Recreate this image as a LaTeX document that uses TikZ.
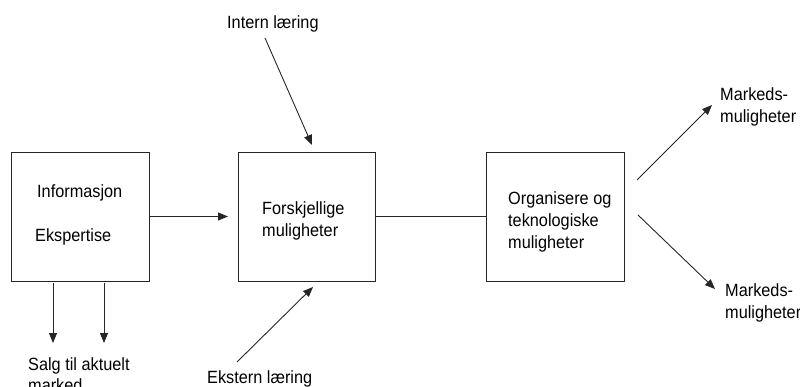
\documentclass[tikz,border=0pt]{standalone}
\usepackage{fontspec}
\setmainfont{Liberation Sans}[FakeStretch=0.92]
\usetikzlibrary{arrows.meta}
\begin{document}
\begin{tikzpicture}[x=1pt,y=-1pt,
  box/.style={draw=black!85,line width=0.9pt,minimum width=137.5pt,minimum height=129pt,inner sep=0pt},
  lbl/.style={inner sep=0pt,anchor=base west,align=left,
    font=\fontsize{17.7pt}{21.7pt}\selectfont},
  conn/.style={draw=black!85,line width=0.9pt},
  arr/.style={conn,-{Triangle[length=10pt,width=8pt]}}]
\useasboundingbox (0,0) rectangle (800,387);

% the three stages
\node[box] (info)  at (80.5,216.5)  {};
\node[box] (mulig) at (307,216.5)   {};
\node[box] (org)   at (555.5,216.5) {};

% texts inside the boxes (multi-line labels sit on their last baseline)
\node[lbl] (tinfo) at (37,197.3)  {Informasjon};
\node[lbl] (teksp) at (35,241.7)  {Ekspertise};
\node[lbl] (tmul)  at (262,236.7) {Forskjellige\\muligheter};
\node[lbl] (torg)  at (508,248.4) {Organisere og\\teknologiske\\muligheter};

% outer labels
\node[lbl] (intern)  at (227,28.3)  {Intern læring};
\node[lbl] (ekstern) at (207,383.3) {Ekstern læring};
\node[lbl] (salg)    at (28,391.7)  {Salg til aktuelt\\marked};
\node[lbl] (mark1)   at (720,122.4) {Markeds-\\muligheter};
\node[lbl] (mark2)   at (725,318.2) {Markeds-\\muligheter};

% free ends of the connectors
\coordinate (infoOut) at (228,216.5);
\coordinate (d1a) at (53,283);  \coordinate (d1b) at (53,343);
\coordinate (d2a) at (104,283); \coordinate (d2b) at (104,343);
\coordinate (inA) at (265,38);  \coordinate (inB) at (312,145);
\coordinate (exA) at (237,362); \coordinate (exB) at (313,287);
\coordinate (upA) at (637,180); \coordinate (upB) at (712,105);
\coordinate (dnA) at (638,215); \coordinate (dnB) at (715,289);

% connectors
\draw[arr] (info.east) -- (infoOut);
\draw[conn] (mulig.east) -- (org.west);
\draw[arr] (d1a) -- (d1b);
\draw[arr] (d2a) -- (d2b);
\draw[arr] (inA) -- (inB);
\draw[arr] (exA) -- (exB);
\draw[arr] (upA) -- (upB);
\draw[arr] (dnA) -- (dnB);
\end{tikzpicture}
\end{document}
